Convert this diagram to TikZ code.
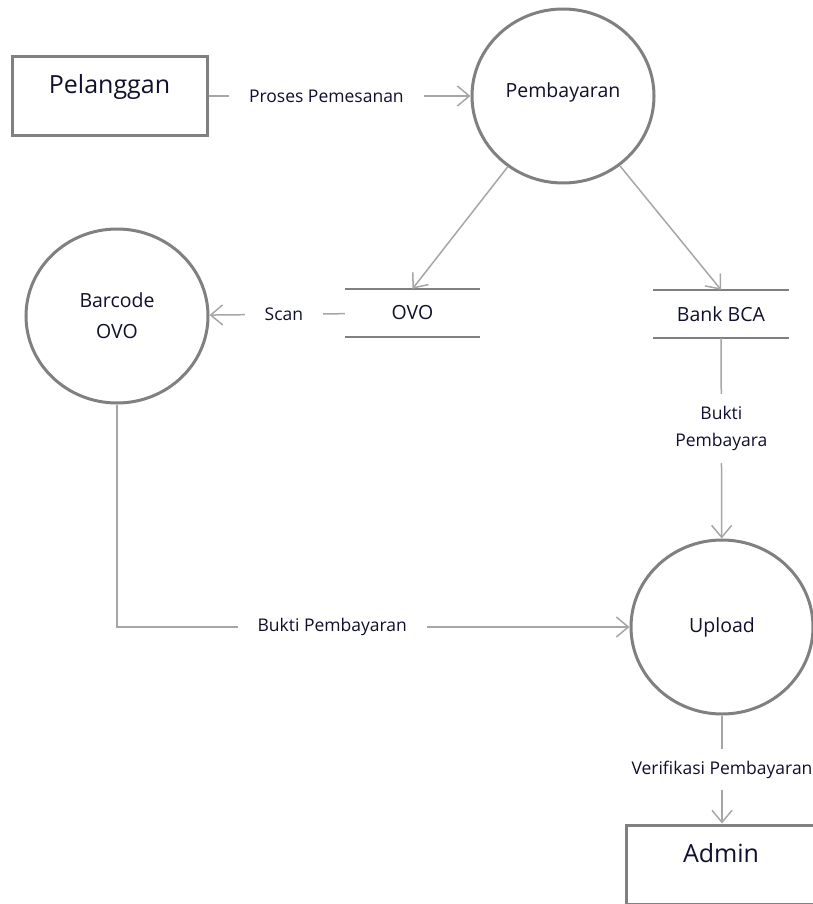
\documentclass[tikz,border=0pt]{standalone}
\usepackage{fontspec}
\setmainfont{Open Sans}
\usetikzlibrary{shapes,arrows,arrows.meta,positioning,calc}
\definecolor{outlinegray}{HTML}{808080}
\definecolor{linegray}{HTML}{A6A6A6}
\definecolor{ink}{HTML}{10102E}

\begin{document}
\begin{tikzpicture}[x=1pt, y=-1pt, >={Straight Barb[length=12pt,width=20pt]},
  every node/.append style={text=ink},
  entity/.style={draw=outlinegray, line width=3pt, text width=195pt, align=center, inner sep=0pt,
    text height=37pt, text depth=42pt, font=\fontsize{25}{30}\selectfont},
  process/.style={ellipse, draw=outlinegray, line width=3pt, fill=white, minimum width=182pt,
    minimum height=174pt, align=center, font=\fontsize{19.5}{31}\selectfont},
  store/.style={minimum width=135pt, minimum height=48pt, font=\fontsize{19.5}{24}\selectfont},
  storeline/.style={draw=outlinegray, line width=1.5pt},
  flow/.style={draw=linegray, line width=1.5pt, ->},
  flowlabel/.style={fill=white, inner xsep=20pt, inner ysep=12pt, align=center,
    font=\fontsize{17.5}{27}\selectfont}]
  \useasboundingbox (0,0) rectangle (813,904);
  \clip (0,0) rectangle (813,904);

  \node [entity] (pelanggan) at (109.5,96) {Pelanggan};
  \node [process, text depth=12pt] (pembayaran) at (563,96) {Pembayaran};
  \node [process] (barcode) at (117,316) {Barcode\\OVO};
  \node [store] (ovo) at (412.5,313) {OVO};
  \node [store] (bca) at (721,314) {Bank BCA};
  \node [process] (upload) at (722,627) {Upload};
  \node [entity, text width=240pt, align=left] (admin) at (746,864.5) {\hspace*{57pt}Admin};

  \draw [storeline] (ovo.north west) -- (ovo.north east) (ovo.south west) -- (ovo.south east);
  \draw [storeline] (bca.north west) -- (bca.north east) (bca.south west) -- (bca.south east);

  \draw [flow] (pelanggan) -- node [flowlabel, pos=0.45] {Proses Pemesanan} (pembayaran);
  \draw [flow] (pembayaran) -- (ovo.north);
  \draw [flow] (pembayaran) -- (bca.north);
  \draw [flow] (ovo) -- node [flowlabel, pos=0.45] {Scan} (barcode);
  \draw [flow] (bca) -- node [flowlabel, pos=0.45] {Bukti\\Pembayara} (upload);
  \draw [flow] (barcode) |- node [flowlabel, pos=0.71] {Bukti Pembayaran} (upload);
  \draw [flow] (upload) -- node [flowlabel] {Verifikasi Pembayaran} (upload.south |- admin.north);
\end{tikzpicture}
\end{document}
